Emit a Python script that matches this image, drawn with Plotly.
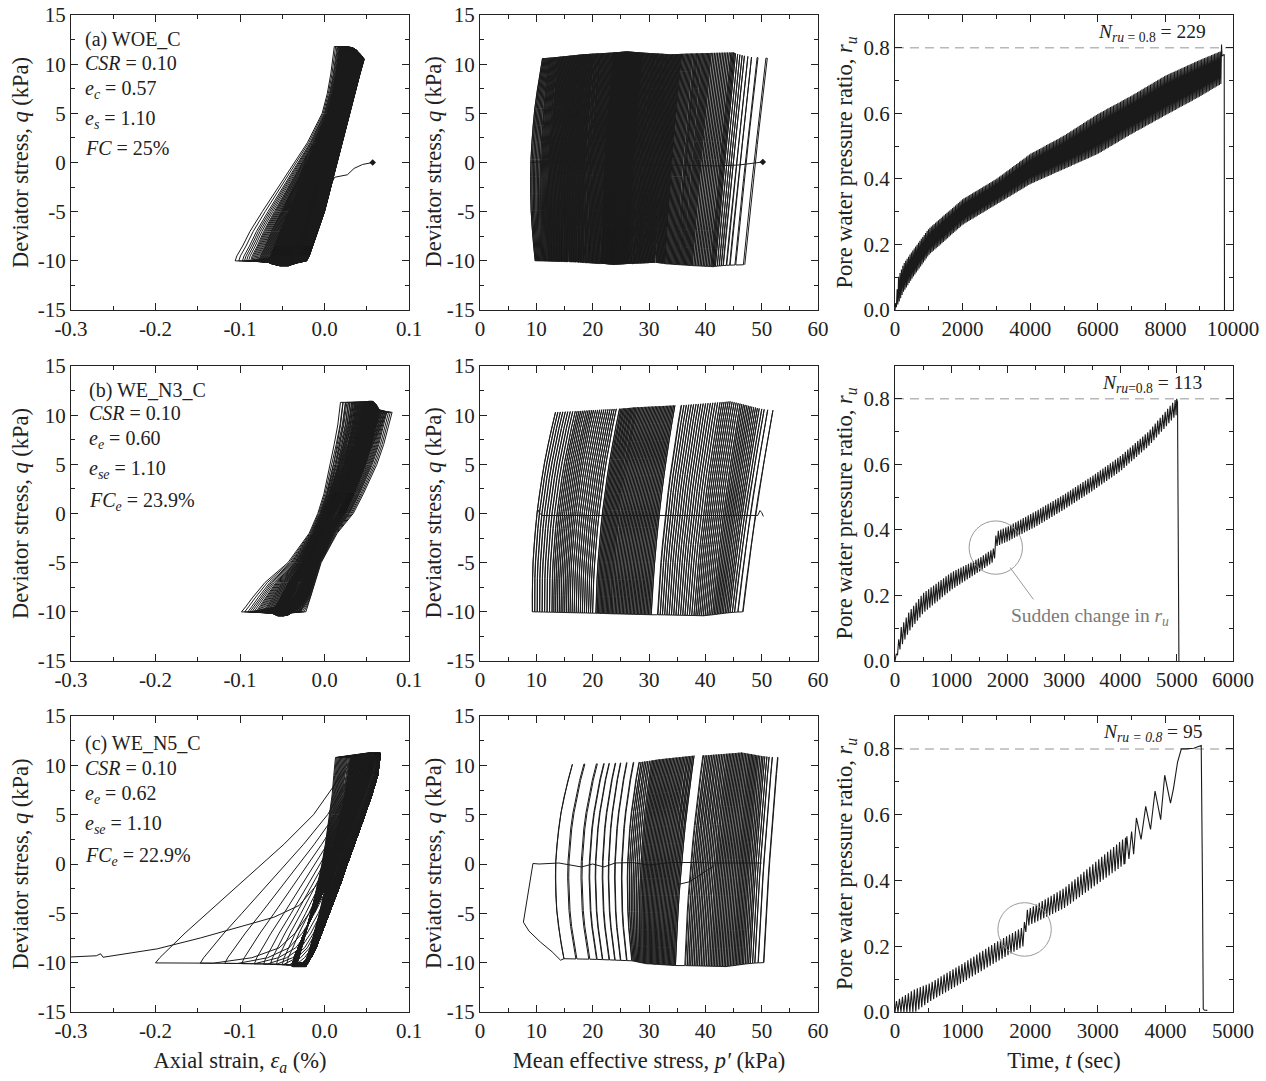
import numpy as np
import plotly.graph_objects as go

W, H = 1266, 1081
FONT = "Liberation Serif"
INK = "#1a1a1a"
AXC = "#222222"

# ---------------------------------------------------------------- data
# ---- column 1: q vs axial strain; loop shapes
Q_LEVELS = [-10, -9.5, -8.5, -7, -5, -2, 0, 2, 5, 7, 9, 10.5]

A_EARLY_LOAD = [-0.030, -0.028, -0.025, -0.020, -0.014, -0.005, 0.002, 0.009, 0.019, 0.026, 0.033, 0.040]
A_EARLY_UNLOAD = [-0.021, -0.018, -0.014, -0.008, 0.000, 0.009, 0.015, 0.021, 0.030, 0.036, 0.042, 0.047]
A_LATE_LOAD = [-0.110, -0.108, -0.101, -0.092, -0.077, -0.053, -0.037, -0.022, -0.004, 0.002, 0.006, 0.010]
A_LATE_UNLOAD = [-0.095, -0.050, -0.036, -0.031, -0.025, -0.015, -0.009, -0.003, 0.004, 0.008, 0.012, 0.016]
A_PROG_CYCLE = [0, 100, 200, 215, 222, 226, 229]
A_PROG_W = [0.0, 0.25, 0.45, 0.60, 0.72, 0.84, 1.0]
A_Q_CYCLE = [0, 60, 120, 180, 229]
A_QTOP = [10.5, 11.0, 11.4, 11.6, 11.8]
A_QBOT = [-10.0, -10.2, -10.5, -10.3, -10.0]
A_INIT_STRAIN = [0.057, 0.045, 0.035, 0.027, 0.012]
A_INIT_Q = [0.0, -0.2, -0.6, -1.25, -1.5]

B_EARLY_LOAD = [-0.028, -0.026, -0.022, -0.017, -0.011, 0.001, 0.012, 0.025, 0.045, 0.057, 0.067, 0.074]
B_EARLY_UNLOAD = [-0.022, -0.020, -0.016, -0.011, -0.004, 0.015, 0.034, 0.046, 0.062, 0.070, 0.076, 0.080]
B_LATE_LOAD = [-0.102, -0.097, -0.088, -0.073, -0.045, -0.019, -0.009, -0.002, 0.005, 0.009, 0.013, 0.016]
B_LATE_UNLOAD = [-0.092, -0.060, -0.040, -0.030, -0.022, -0.013, -0.006, 0.001, 0.008, 0.012, 0.016, 0.019]
B_PROG_CYCLE = [0, 3, 11, 90, 100, 106, 110, 113]
B_PROG_W = [0.0, 0.10, 0.25, 0.45, 0.60, 0.72, 0.85, 1.0]
B_Q_CYCLE = [0, 30, 60, 113]
B_QTOP = [10.3, 11.0, 11.4, 11.3]
B_QBOT = [-10.0, -10.3, -10.4, -10.0]

C_EARLY_LOAD = [-0.032, -0.030, -0.027, -0.022, -0.016, -0.008, -0.003, 0.001, 0.006, 0.009, 0.011, 0.013]
C_EARLY_UNLOAD = [-0.024, -0.021, -0.017, -0.012, -0.006, 0.002, 0.007, 0.012, 0.019, 0.024, 0.028, 0.031]
C_MID_LOAD = [-0.038, -0.036, -0.031, -0.024, -0.013, 0.003, 0.013, 0.023, 0.038, 0.047, 0.055, 0.060]
C_MID_UNLOAD = [-0.022, -0.016, -0.010, -0.003, 0.006, 0.019, 0.027, 0.035, 0.048, 0.056, 0.063, 0.066]
C_LATE_LOAD = [-0.200, -0.195, -0.183, -0.165, -0.139, -0.100, -0.074, -0.048, -0.013, 0.004, 0.020, 0.035]
C_LATE_UNLOAD = [-0.185, -0.120, -0.075, -0.050, -0.030, -0.008, 0.005, 0.016, 0.033, 0.043, 0.052, 0.058]
C_PROG_CYCLE = [0, 45, 82]
C_PROG_W = [0.0, 1.0, 1.0]
C_LAST_BOTTOMS = [-0.045, -0.050, -0.057, -0.064, -0.072, -0.083, -0.098, -0.118, -0.147, -0.200]
C_Q_CYCLE = [0, 40, 80, 92]
C_QTOP = [10.8, 11.3, 11.0, 10.6]
C_QBOT = [-10.0, -10.4, -10.3, -10.0]
C_TAIL_STRAIN = [0.058, 0.043, 0.033, 0.016, 0.005, -0.008, -0.030, -0.060, -0.100, -0.147,
                 -0.198, -0.253, -0.262, -0.265, -0.270, -0.300]
C_TAIL_Q = [10.5, 7.0, 5.0, 2.0, 0.0, -2.0, -4.2, -5.4, -6.4, -7.5,
            -8.6, -9.3, -9.45, -9.1, -9.3, -9.42]

# ---- column 2: q vs p'
PA_CYCLE = [0, 1, 2, 4, 8, 12, 24, 48, 71, 95, 119, 143, 166, 190, 214, 229]
PA_PBOT = [47.0, 45.4, 44.4, 43.2, 41.8, 41.0, 37.7, 32.8, 29.6, 26.3, 23.8, 21.4, 18.1, 15.1, 12.1, 9.8]
PA_WIDTH_CYCLE = [0, 8, 48, 119, 190, 229]
PA_WIDTH = [4.0, 3.6, 3.0, 2.4, 1.8, 1.3]
PA_BOW_CYCLE = [0, 119, 200, 222, 229]
PA_BOW = [0.1, 0.3, 0.5, 0.8, 1.4]
PA_QT_CYCLE = [0, 10, 60, 120, 180, 229]
PA_QTOP = [10.6, 11.2, 11.0, 11.3, 11.0, 10.6]
PA_QBOT = [-10.4, -10.6, -10.2, -10.4, -10.1, -10.0]
PA_RET_P = [9.0, 10.4, 20.0, 30.0, 42.0, 46.0, 48.0, 50.2]
PA_RET_Q = [0.0, 0.05, -0.1, -0.2, -0.35, -0.25, -0.1, 0.05]

PB_CYCLE = [0, 1, 2, 4, 8, 15, 25, 41, 42, 55, 70, 83, 84, 95, 105, 113]
PB_PBOT = [46.7, 45.8, 45.2, 44.4, 43.2, 41.3, 38.0, 31.6, 30.4, 27.2, 23.5, 20.6, 20.0, 16.0, 12.8, 9.3]
PB_WIDTH_CYCLE = [0, 41, 84, 113]
PB_WIDTH = [5.3, 4.2, 4.2, 4.1]
PB_BOW_CYCLE = [0, 41, 84, 113]
PB_BOW = [0.3, 0.6, 0.9, 1.2]
PB_QT_CYCLE = [0, 20, 41, 70, 113]
PB_QTOP = [10.5, 11.4, 11.0, 10.8, 10.3]
PB_QBOT = [-10.0, -10.4, -10.3, -10.2, -10.0]
PB_RET_P = [10.3, 10.5, 11.0, 30.0, 49.3, 49.7, 50.0, 50.3]
PB_RET_Q = [0.4, 0.1, -0.2, -0.2, -0.2, 0.3, 0.1, -0.3]

PC_CYCLE = [0, 1, 2, 4, 8, 15, 30, 44, 45, 60, 75, 82, 83, 84, 85, 86, 87, 88, 89, 90, 91]
PC_PBOT = [50.4, 49.4, 48.8, 48.0, 46.8, 45.0, 40.8, 36.5, 34.7, 31.5, 28.4,
           27.0, 26.1, 25.0, 24.0, 23.0, 21.8, 20.8, 19.5, 17.2, 14.9]
PC_WIDTH_CYCLE = [0, 44, 45, 75, 85, 91]
PC_WIDTH = [2.5, 3.2, 3.3, 2.0, 1.0, 1.5]
PC_BOW_CYCLE = [0, 44, 75, 85, 91]
PC_BOW = [0.2, 0.5, 0.8, 1.6, 2.2]
PC_QT_CYCLE = [0, 20, 44, 70, 91]
PC_QTOP = [10.8, 11.3, 11.0, 10.6, 10.1]
PC_QBOT = [-10.0, -10.4, -10.3, -10.1, -9.6]
PC_RET_P = [9.4, 10.2, 10.5, 14.0, 18.0, 20.0, 22.0, 24.0, 27.0, 30.0, 34.0, 38.0, 42.0, 50.0]
PC_RET_Q = [0.05, 0.05, 0.0, 0.1, -0.3, 0.0, -0.3, 0.1, 0.15, -0.1, 0.15, 0.15, 0.1, 0.1]
PC_FAIL_P = [14.9, 14.3, 12.8, 10.7, 8.7, 7.7, 9.4]
PC_FAIL_Q = [-9.6, -9.75, -8.9, -7.9, -6.8, -5.9, 0.05]
PC_EXTRA_P = [35.0, 37.2, 39.6, 41.5]
PC_EXTRA_Q = [-2.1, -1.8, -0.9, -0.2]

# ---- column 3: ru vs time (envelopes)
RA_T = [0, 100, 250, 500, 1000, 2000, 3000, 4000, 5000, 6000, 7000, 8000, 9000, 9650]
RA_UP = [0.0, 0.10, 0.14, 0.178, 0.248, 0.338, 0.40, 0.476, 0.532, 0.598, 0.654, 0.715, 0.762, 0.79]
RA_LO = [0.0, 0.02, 0.055, 0.095, 0.168, 0.26, 0.322, 0.384, 0.43, 0.476, 0.537, 0.594, 0.65, 0.69]
RA_PERIOD, RA_END = 42.1, 9650
RA_TAIL_T = [9650, 9660, 9675, 9740, 9748]
RA_TAIL_RU = [0.70, 0.81, 0.775, 0.78, 0.0]

RB_T = [0, 100, 250, 500, 1000, 1500, 1760, 1800, 2000, 2500, 3000, 3500, 4000, 4500, 4990]
RB_UP = [0.0, 0.10, 0.15, 0.207, 0.27, 0.314, 0.345, 0.395, 0.41, 0.457, 0.508, 0.564, 0.625, 0.70, 0.80]
RB_LO = [0.0, 0.04, 0.09, 0.146, 0.217, 0.273, 0.304, 0.35, 0.365, 0.41, 0.462, 0.518, 0.579, 0.655, 0.75]
RB_PERIOD, RB_END = 44.2, 4990
RB_TAIL_T = [4990, 5000, 5015, 5030, 5032, 5034, 5040]
RB_TAIL_RU = [0.75, 0.80, 0.79, 0.27, 0.25, 0.09, 0.0]

RC_T = [0, 100, 300, 500, 1000, 1500, 1900, 1950, 2500, 3000, 3400]
RC_UP = [0.03, 0.045, 0.07, 0.086, 0.147, 0.213, 0.259, 0.31, 0.376, 0.462, 0.53]
RC_LO = [0.0, 0.0, 0.0, 0.03, 0.09, 0.152, 0.20, 0.26, 0.315, 0.39, 0.45]
RC_PERIOD, RC_END = 44.0, 3400
RC_TAIL_T = [3400, 3430, 3460, 3500, 3530, 3571, 3640, 3709, 3780, 3847, 3930, 3990, 4075,
             4120, 4180, 4236, 4300, 4420, 4500, 4530, 4548, 4560, 4575, 4620]
RC_TAIL_RU = [0.45, 0.534, 0.465, 0.549, 0.48, 0.59, 0.525, 0.625, 0.555, 0.672, 0.585, 0.72, 0.635,
              0.68, 0.76, 0.80, 0.80, 0.802, 0.808, 0.81, 0.40, 0.01, 0.006, 0.005]

N_LABELS = ["<i>N</i><sub><i>ru</i> = 0.8</sub> = 229",
            "<i>N</i><sub><i>ru</i>=0.8</sub> = 113",
            "<i>N</i><sub><i>ru = 0.8</i></sub> = 95"]
RU_LIMIT = 0.8
X_MAX_RU = [10000, 6000, 5000]

PANEL_TEXT = [
    ["(a) WOE_C", "<i>CSR</i> = 0.10", "<i>e</i><sub><i>c</i></sub> = 0.57",
     "<i>e</i><sub><i>s</i></sub> = 1.10", "<i>FC</i> = 25%"],
    ["(b) WE_N3_C", "<i>CSR</i> = 0.10", "<i>e</i><sub><i>e</i></sub> = 0.60",
     "<i>e</i><sub><i>se</i></sub> = 1.10", "<i>FC</i><sub><i>e</i></sub> = 23.9%"],
    ["(c) WE_N5_C", "<i>CSR</i> = 0.10", "<i>e</i><sub><i>e</i></sub> = 0.62",
     "<i>e</i><sub><i>se</i></sub> = 1.10", "<i>FC</i><sub><i>e</i></sub> = 22.9%"],
]

# circles / callout (data units)
CIRCLE_B = dict(t=1789, ru=0.346, dt=474, dru=0.0814)
CIRCLE_C = dict(t=1917, ru=0.251, dt=395, dru=0.0814)
LEADER_B_T = [2043, 2457]
LEADER_B_RU = [0.285, 0.188]
CALLOUT_B = dict(t=3465, ru=0.133, text="Sudden change in <i>r</i><sub><i>u</i></sub>")

# ---------------------------------------------------------------- builders
def strain_path(templates, w_cycles, qtop, qbot, last_load_only=False):
    qb = np.array(Q_LEVELS, float)
    tm = [(np.array(l, float), np.array(u, float)) for l, u in templates]
    xs, ys = [], []
    n = len(w_cycles)
    for i, w in enumerate(w_cycles):
        k = int(min(np.floor(w), len(tm) - 2))
        f = w - k
        load = (1 - f) * tm[k][0] + f * tm[k + 1][0]
        unload = (1 - f) * tm[k][1] + f * tm[k + 1][1]
        q = qb.copy()
        q[0] = qbot[i]
        q[-1] = qtop[i]
        xs.extend(load.tolist()); ys.extend(q.tolist())
        if not (last_load_only and i == n - 1):
            xs.extend(unload[::-1].tolist()); ys.extend(q[::-1].tolist())
    return xs, ys


def stress_path(n, cp, pbot, cw, width, cb, bow, cq, qtop, qbot, shift=0.15):
    s = np.linspace(-1, 1, 13)
    xs, ys = [], []
    for i in range(n):
        for c, ss in ((i, s), (i + shift, s[::-1])):
            pb = np.interp(c, cp, pbot)
            d = np.interp(c, cw, width)
            b = np.interp(c, cb, bow)
            qt = np.interp(c, cq, qtop)
            qbo = np.interp(c, cq, qbot)
            u = (ss + 1) / 2
            xs.extend((pb + d * u - b * (1 - ss ** 2)).tolist())
            ys.extend((qbo + (qt - qbo) * u).tolist())
    return xs, ys


def ru_path(t_end, period, tk, upk, lok):
    t, r = [], []
    for t0 in np.arange(0.0, t_end, period):
        t += [t0, t0 + 0.5 * period]
        r += [float(np.interp(t0, tk, lok)), float(np.interp(t0 + 0.5 * period, tk, upk))]
    return t, r

# ---------------------------------------------------------------- figure
fig = go.Figure()
COLS = [(71, 409), (480, 818), (895, 1233)]
ROWS = [(15, 310), (366, 661), (716, 1012)]


def ax(p):
    return ("x" if p == 1 else f"x{p}"), ("y" if p == 1 else f"y{p}")


def line(p, x, y, color=INK, width=1.0, dash=None):
    xa, ya = ax(p)
    fig.add_trace(go.Scatter(x=x, y=y, mode="lines", xaxis=xa, yaxis=ya,
                             line=dict(color=color, width=width, dash=dash),
                             hoverinfo="skip", showlegend=False))

# column 1
nA = A_PROG_CYCLE[-1]
wA = np.interp(np.arange(nA), A_PROG_CYCLE, A_PROG_W)
xa_, ya_ = strain_path([(A_EARLY_LOAD, A_EARLY_UNLOAD), (A_LATE_LOAD, A_LATE_UNLOAD)], wA,
                       np.interp(np.arange(nA), A_Q_CYCLE, A_QTOP), np.interp(np.arange(nA), A_Q_CYCLE, A_QBOT))
# initial path joins the first unloading branch below its end point
lead_x = [x for x, q in zip(A_EARLY_UNLOAD[::-1], Q_LEVELS[::-1]) if q < A_INIT_Q[-1]]
lead_q = [q for q in Q_LEVELS[::-1] if q < A_INIT_Q[-1]]
line(1, A_INIT_STRAIN + lead_x + xa_, A_INIT_Q + lead_q + ya_)
fig.add_trace(go.Scatter(x=[A_INIT_STRAIN[0]], y=[A_INIT_Q[0]], mode="markers", xaxis="x", yaxis="y",
                         marker=dict(color=INK, size=5, symbol="diamond"), hoverinfo="skip", showlegend=False))

nB = B_PROG_CYCLE[-1]
wB = np.interp(np.arange(nB), B_PROG_CYCLE, B_PROG_W)
xb_, yb_ = strain_path([(B_EARLY_LOAD, B_EARLY_UNLOAD), (B_LATE_LOAD, B_LATE_UNLOAD)], wB,
                       np.interp(np.arange(nB), B_Q_CYCLE, B_QTOP), np.interp(np.arange(nB), B_Q_CYCLE, B_QBOT))
line(4, xb_, yb_)

nC0 = C_PROG_CYCLE[-1]
wC = list(np.interp(np.arange(nC0), C_PROG_CYCLE, C_PROG_W))
wC += [1 + (b - C_MID_LOAD[0]) / (C_LATE_LOAD[0] - C_MID_LOAD[0]) for b in C_LAST_BOTTOMS]
nC = len(wC)
xc_, yc_ = strain_path([(C_EARLY_LOAD, C_EARLY_UNLOAD), (C_MID_LOAD, C_MID_UNLOAD), (C_LATE_LOAD, C_LATE_UNLOAD)],
                       np.array(wC), np.interp(np.arange(nC), C_Q_CYCLE, C_QTOP),
                       np.interp(np.arange(nC), C_Q_CYCLE, C_QBOT), last_load_only=True)
line(7, xc_ + C_TAIL_STRAIN, yc_ + C_TAIL_Q)

# column 2
x2, y2 = stress_path(PA_CYCLE[-1] + 1, PA_CYCLE, PA_PBOT, PA_WIDTH_CYCLE, PA_WIDTH, PA_BOW_CYCLE, PA_BOW,
                     PA_QT_CYCLE, PA_QTOP, PA_QBOT)
line(2, x2, y2)
line(2, PA_RET_P, PA_RET_Q)
fig.add_trace(go.Scatter(x=[PA_RET_P[-1]], y=[PA_RET_Q[-1]], mode="markers", xaxis="x2", yaxis="y2",
                         marker=dict(color=INK, size=5, symbol="diamond"), hoverinfo="skip", showlegend=False))
x5, y5 = stress_path(PB_CYCLE[-1] + 1, PB_CYCLE, PB_PBOT, PB_WIDTH_CYCLE, PB_WIDTH, PB_BOW_CYCLE, PB_BOW,
                     PB_QT_CYCLE, PB_QTOP, PB_QBOT, shift=0.08)
line(5, x5, y5)
line(5, PB_RET_P, PB_RET_Q)
x8, y8 = stress_path(PC_CYCLE[-1] + 1, PC_CYCLE, PC_PBOT, PC_WIDTH_CYCLE, PC_WIDTH, PC_BOW_CYCLE, PC_BOW,
                     PC_QT_CYCLE, PC_QTOP, PC_QBOT, shift=0.08)
line(8, x8, y8)
line(8, PC_RET_P, PC_RET_Q)
line(8, PC_FAIL_P, PC_FAIL_Q)
line(8, PC_EXTRA_P, PC_EXTRA_Q)

# column 3
for p, (tk, up, lo, per, end, tt, tr), xmax in zip(
        (3, 6, 9),
        ((RA_T, RA_UP, RA_LO, RA_PERIOD, RA_END, RA_TAIL_T, RA_TAIL_RU),
         (RB_T, RB_UP, RB_LO, RB_PERIOD, RB_END, RB_TAIL_T, RB_TAIL_RU),
         (RC_T, RC_UP, RC_LO, RC_PERIOD, RC_END, RC_TAIL_T, RC_TAIL_RU)),
        X_MAX_RU):
    line(p, [0, xmax], [RU_LIMIT, RU_LIMIT], color="#b8b8b8", width=1.5, dash="9px,6px")
    t, r = ru_path(end, per, tk, up, lo)
    line(p, t + tt, r + tr, width=1.1)

# ---------------------------------------------------------------- axes
def px2x(px):
    return px / W


def px2y(py):
    return 1 - py / H


tickfont = dict(family=FONT, size=21, color=AXC)
titlefont = dict(family=FONT, size=22.5, color=AXC)
base = dict(showline=True, linecolor=AXC, linewidth=1, mirror="allticks", ticks="inside", ticklen=7,
            tickwidth=1, tickcolor=AXC, showgrid=False, zeroline=False, tickfont=tickfont,
            tickmode="array", automargin=False)

Q_TITLE = "Deviator stress, <i>q</i> (kPa)"
annotations = []
layout = {}
for r in range(3):
    for c in range(3):
        p = r * 3 + c + 1
        xk = "xaxis" if p == 1 else f"xaxis{p}"
        yk = "yaxis" if p == 1 else f"yaxis{p}"
        xa, ya = ax(p)
        xd = [px2x(COLS[c][0]), px2x(COLS[c][1])]
        yd = [px2y(ROWS[r][1]), px2y(ROWS[r][0])]
        if c == 0:
            xv = [-0.3, -0.2, -0.1, 0.0, 0.1]
            xt = ["-0.3", "-0.2", "-0.1", "0.0", "0.1"]
            xm = [-0.25, -0.15, -0.05, 0.05]
            xr = [-0.3, 0.1]
            xtitle = "Axial strain, <i>ε</i><sub><i>a</i></sub> (%)"
        elif c == 1:
            xv = list(range(0, 61, 10))
            xt = [str(v) for v in xv]
            xm = list(range(5, 60, 10))
            xr = [0, 60]
            xtitle = "Mean effective stress, <i>p′</i> (kPa)"
        else:
            xmax = X_MAX_RU[r]
            step = 2000 if xmax == 10000 else 1000
            xv = list(range(0, xmax + 1, step))
            xt = [str(v) for v in xv]
            xm = list(range(step // 2, xmax, step))
            xr = [0, xmax]
            xtitle = "Time, <i>t</i> (sec)"
        xdict = dict(base, domain=xd, anchor=ya, range=xr, tickvals=xv, ticktext=xt,
                     minor=dict(ticks="inside", ticklen=4, tickcolor=AXC, tickvals=xm, showgrid=False))
        if r == 2:
            xdict["title"] = dict(text=xtitle, font=titlefont, standoff=10)
        if c < 2:
            yv = list(range(-15, 16, 5))
            yt = [str(v) for v in yv]
            ym = [-12.5, -7.5, -2.5, 2.5, 7.5, 12.5]
            yr = [-15, 15]
        else:
            yv = [0, 0.2, 0.4, 0.6, 0.8]
            yt = ["0.0", "0.2", "0.4", "0.6", "0.8"]
            ym = [0.1, 0.3, 0.5, 0.7]
            yr = [0, 0.9]
        ydict = dict(base, domain=yd, anchor=xa, range=yr, tickvals=yv, ticktext=yt,
                     minor=dict(ticks="inside", ticklen=4, tickcolor=AXC, tickvals=ym, showgrid=False))
        if c == 0:
            ydict["title"] = dict(text=Q_TITLE, font=titlefont, standoff=2)
        elif c == 2:
            ydict["title"] = dict(text="Pore water pressure ratio, <i>r</i><sub><i>u</i></sub>",
                                  font=titlefont, standoff=4)
        else:
            annotations.append(dict(text=Q_TITLE, textangle=-90, x=px2x(433),
                                    y=px2y((ROWS[r][0] + ROWS[r][1]) / 2), xref="paper", yref="paper",
                                    xanchor="center", yanchor="middle", showarrow=False, font=titlefont))
        layout[xk] = xdict
        layout[yk] = ydict

TEXT_X = [83, 87, 83]
TEXT_TOPS = [[26, 50, 75, 105, 135], [377, 400, 425, 455, 487], [730, 755, 780, 810, 842]]
for r in range(3):
    for txt, top in zip(PANEL_TEXT[r], TEXT_TOPS[r]):
        annotations.append(dict(text=txt, x=px2x(TEXT_X[r]), y=px2y(top), xref="paper", yref="paper",
                                xanchor="left", yanchor="top", showarrow=False,
                                font=dict(family=FONT, size=20, color=AXC)))
N_TOPS = [19, 370, 719]
for r in range(3):
    annotations.append(dict(text=N_LABELS[r], x=px2x(1152), y=px2y(N_TOPS[r]), xref="paper", yref="paper",
                            xanchor="center", yanchor="top", showarrow=False,
                            font=dict(family=FONT, size=19.5, color=AXC)))
annotations.append(dict(text=CALLOUT_B["text"], x=CALLOUT_B["t"], y=CALLOUT_B["ru"], xref="x6", yref="y6",
                        xanchor="center", yanchor="middle", showarrow=False,
                        font=dict(family=FONT, size=19.5, color="#7a7a7a")))

shapes = []
for cir, (xr_, yr_) in ((CIRCLE_B, ("x6", "y6")), (CIRCLE_C, ("x9", "y9"))):
    shapes.append(dict(type="circle", xref=xr_, yref=yr_, x0=cir["t"] - cir["dt"], x1=cir["t"] + cir["dt"],
                       y0=cir["ru"] - cir["dru"], y1=cir["ru"] + cir["dru"],
                       line=dict(color="#9a9a9a", width=1)))
shapes.append(dict(type="line", xref="x6", yref="y6", x0=LEADER_B_T[0], x1=LEADER_B_T[1],
                   y0=LEADER_B_RU[0], y1=LEADER_B_RU[1], line=dict(color="#9a9a9a", width=1)))

fig.update_layout(width=W, height=H, margin=dict(l=0, r=0, t=0, b=0), paper_bgcolor="white",
                  plot_bgcolor="white", showlegend=False, annotations=annotations, shapes=shapes,
                  font=dict(family=FONT, color=AXC), **layout)

fig.write_html("out.html", config={"displayModeBar": False},
               post_script="document.body.style.margin='0px';")
